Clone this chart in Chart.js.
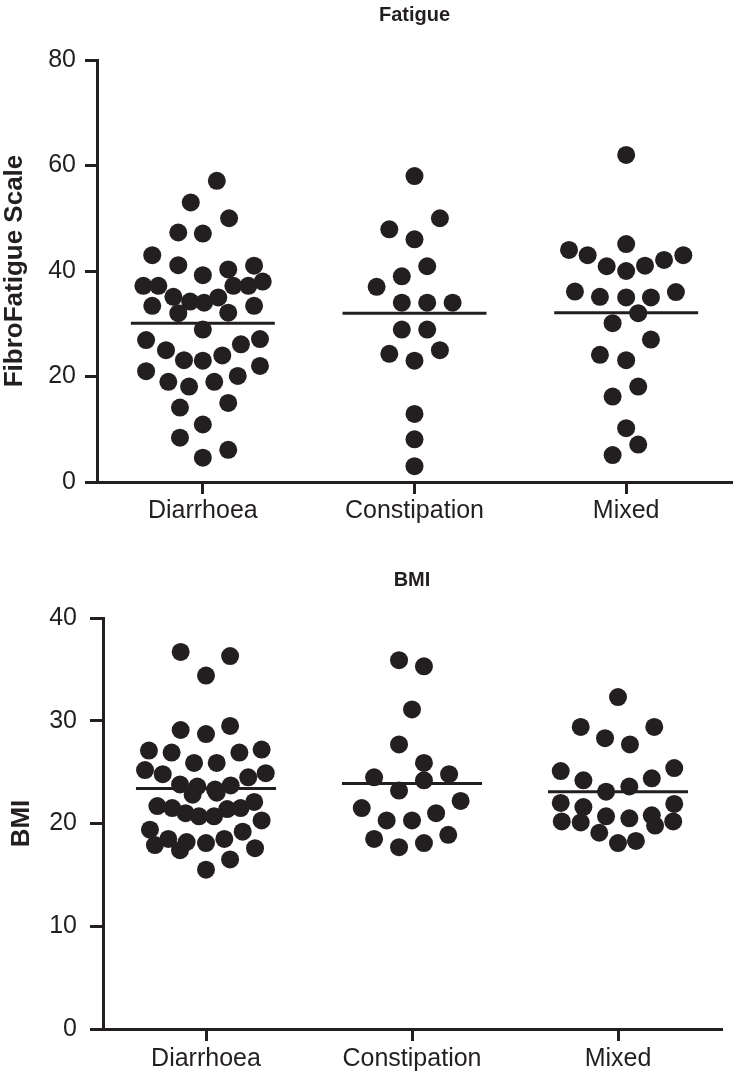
<!DOCTYPE html>
<html>
<head>
<meta charset="utf-8">
<script src="https://cdn.jsdelivr.net/npm/chart.js@4/dist/chart.umd.min.js"></script>
<style>
  html, body { margin: 0; padding: 0; background: #ffffff; }
  #wrap { position: relative; width: 733px; height: 1080px; }
  .box { position: absolute; left: 0; width: 733px; height: 540px; }
  #top { top: 0; }
  #bot { top: 540px; }
</style>
</head>
<body>
<div id="wrap">
  <div class="box" id="top"><canvas id="c1" width="733" height="540"></canvas></div>
  <div class="box" id="bot"><canvas id="c2" width="733" height="540"></canvas></div>
</div>
<script>
// ---------------- DATA ----------------
const categories = ['Diarrhoea', 'Constipation', 'Mixed'];
const fatigueTicks = [0, 20, 40, 60, 80];
const bmiTicks = [0, 10, 20, 30, 40];

// FibroFatigue scale values and horizontal spread (category units)
const fatigueDiarrhoea = [57.1,53,50,47.3,47.1,43,41.1,40.3,41,39.2,37.2,37.2,37.2,37.2,38,35.1,34.2,34,35,33.4,33.4,32,32.1,28.9,26.9,25,23.1,23,24,26.1,27.1,21,19,18.1,19,20.1,22,14.1,15,10.9,8.4,6.1,4.6];
const fatigueDiarrhoeaSpread = [0.066,-0.057,0.124,-0.116,0,-0.239,-0.116,0.12,0.242,0,-0.281,-0.21,0.144,0.215,0.283,-0.139,-0.06,0.006,0.073,-0.239,0.242,-0.116,0.12,0,-0.268,-0.174,-0.089,0,0.092,0.18,0.27,-0.268,-0.163,-0.065,0.054,0.165,0.27,-0.108,0.12,0,-0.108,0.12,0];
const fatigueConstipation = [58,50,47.9,46,40.9,39,37,34,34,34,28.9,28.9,24.3,23,25,12.9,8.1,3];
const fatigueConstipationSpread = [0,0.12,-0.119,0,0.06,-0.06,-0.179,-0.06,0.06,0.18,-0.06,0.06,-0.119,0,0.12,0,0,0];
const fatigueMixed = [62,44,43,45.1,40.9,40,41,42.1,43,36.1,35.1,35,35,36,32,30.1,27,24.1,23.1,18.1,16.2,10.2,7.1,5.1];
const fatigueMixedSpread = [0,-0.27,-0.182,0,-0.092,0,0.089,0.179,0.27,-0.242,-0.124,0,0.117,0.235,0.057,-0.064,0.117,-0.124,0,0.057,-0.064,0,0.057,-0.064];
const fatigueMeans = [30.1, 32.0, 32.1];

// BMI values
const bmiDiarrhoea = [36.7,36.3,34.4,29.1,28.7,29.5,27.1,26.9,25.9,25.9,26.9,27.2,25.2,24.8,24.5,24.9,23.8,23.6,23.3,23.7,22.8,23.0,21.7,21.5,21.0,20.7,20.7,21.4,21.5,22.1,20.3,19.4,18.5,17.9,18.2,17.4,18.1,18.5,19.2,17.6,16.5,15.5];
const bmiDiarrhoeaSpread = [-0.123,0.117,0,-0.123,0,0.117,-0.277,-0.167,-0.058,0.052,0.162,0.27,-0.296,-0.21,0.205,0.29,-0.126,-0.042,0.044,0.12,-0.065,0.052,-0.236,-0.164,-0.099,-0.034,0.039,0.103,0.168,0.234,0.27,-0.272,-0.183,-0.248,-0.094,-0.126,0,0.089,0.178,0.238,0.117,0];
const bmiConstipation = [35.9,35.3,31.1,27.7,25.9,24.5,24.2,24.8,23.2,21.5,22.2,20.3,20.3,21.0,18.5,17.7,18.1,18.9];
const bmiConstipationSpread = [-0.063,0.058,0,-0.063,0.058,-0.184,0.058,0.18,-0.063,-0.244,0.236,-0.123,0,0.117,-0.184,-0.063,0.058,0.176];
const bmiMixed = [32.3,29.4,29.4,28.3,27.7,25.1,24.2,24.4,25.4,23.6,23.1,22.0,21.6,21.9,20.7,20.5,20.8,20.2,20.1,19.8,20.2,19.1,18.1,18.3];
const bmiMixedSpread = [0,-0.181,0.176,-0.063,0.058,-0.278,-0.168,0.164,0.273,0.055,-0.058,-0.278,-0.168,0.273,-0.058,0.055,0.164,-0.273,-0.181,0.18,0.268,-0.091,0,0.087];
const bmiMeans = [23.4, 23.9, 23.1];

// ---------------- STYLE ----------------
const INK = '#231f20';
const FONT = "'Liberation Sans', Arial, Helvetica, sans-serif";
const MEAN_HALF = 0.34;

function pts(values, spread, cat) {
  return values.map((v, i) => ({ x: cat + spread[i], y: v }));
}
function meanLine(means) {
  const out = [];
  means.forEach((m, c) => {
    out.push({ x: c - MEAN_HALF, y: m });
    out.push({ x: c + MEAN_HALF, y: m });
    out.push({ x: c + 0.5, y: null });
  });
  return out;
}

function makeChart(id, cfg) {
  const groups = cfg.groups;
  const datasets = [];
  groups.forEach((g, c) => {
    datasets.push({
      type: 'scatter',
      data: pts(g[0], g[1], c),
      backgroundColor: INK,
      borderColor: INK,
      borderWidth: 0,
      pointRadius: 9,
      pointHoverRadius: 9,
      order: 2
    });
  });
  datasets.push({
    type: 'line',
    data: meanLine(cfg.means),
    borderColor: INK,
    borderWidth: 3,
    pointRadius: 0,
    spanGaps: false,
    fill: false,
    order: 1
  });

  return new Chart(document.getElementById(id), {
    type: 'scatter',
    data: { datasets },
    options: {
      responsive: false,
      animation: false,
      devicePixelRatio: 1,
      layout: { autoPadding: false, padding: { left: 0, right: cfg.padRight, top: 0, bottom: 0 } },
      plugins: {
        legend: { display: false },
        tooltip: { enabled: false },
        title: {
          display: true,
          text: cfg.title,
          fullSize: false,
          color: INK,
          font: { family: FONT, size: 20, weight: 'bold' },
          padding: { top: cfg.titleTop, bottom: cfg.titleBottom }
        }
      },
      scales: {
        x: {
          type: 'linear',
          min: -0.5,
          max: 2.5,
          afterBuildTicks: (s) => { s.ticks = categories.map((_, i) => ({ value: i })); },
          afterFit: (s) => { s.height = cfg.xHeight; },
          ticks: {
            color: INK,
            font: { family: FONT, size: 25 },
            padding: cfg.xPad,
            maxRotation: 0,
            autoSkip: false,
            callback: (v) => categories[v]
          },
          grid: { display: true, drawOnChartArea: false, drawTicks: true, tickLength: 12, lineWidth: 3, color: INK },
          border: { display: true, color: INK, width: 3 }
        },
        y: {
          type: 'linear',
          min: cfg.ticks[0],
          max: cfg.ticks[cfg.ticks.length - 1],
          afterBuildTicks: (s) => { s.ticks = cfg.ticks.map(v => ({ value: v })); },
          afterFit: (s) => { s.width = cfg.yWidth; },
          ticks: {
            color: INK,
            font: { family: FONT, size: 25 },
            padding: cfg.yPad
          },
          grid: { display: true, drawOnChartArea: false, drawTicks: true, tickLength: cfg.yTick, lineWidth: 3, color: INK },
          border: { display: true, color: INK, width: 3 },
          title: {
            display: true,
            text: cfg.yTitle,
            color: INK,
            font: { family: FONT, size: 26, weight: 'bold' },
            padding: { top: cfg.yTitlePad, bottom: 0 }
          }
        }
      }
    }
  });
}

makeChart('c1', {
  title: 'Fatigue',
  yTitle: 'FibroFatigue Scale',
  groups: [[fatigueDiarrhoea, fatigueDiarrhoeaSpread], [fatigueConstipation, fatigueConstipationSpread], [fatigueMixed, fatigueMixedSpread]],
  means: fatigueMeans,
  ticks: fatigueTicks,
  padRight: 1,
  titleTop: 3,
  titleBottom: 33,
  xHeight: 58,
  xPad: 2,
  yWidth: 97,
  yPad: 9,
  yTick: 12,
  yTitlePad: -1,
});

makeChart('c2', {
  title: 'BMI',
  yTitle: 'BMI',
  groups: [[bmiDiarrhoea, bmiDiarrhoeaSpread], [bmiConstipation, bmiConstipationSpread], [bmiMixed, bmiMixedSpread]],
  means: bmiMeans,
  ticks: bmiTicks,
  padRight: 12,
  titleTop: 28,
  titleBottom: 26,
  xHeight: 51,
  xPad: 3,
  yWidth: 103,
  yPad: 13,
  yTick: 13,
  yTitlePad: 6.5
});
</script>
</body>
</html>
